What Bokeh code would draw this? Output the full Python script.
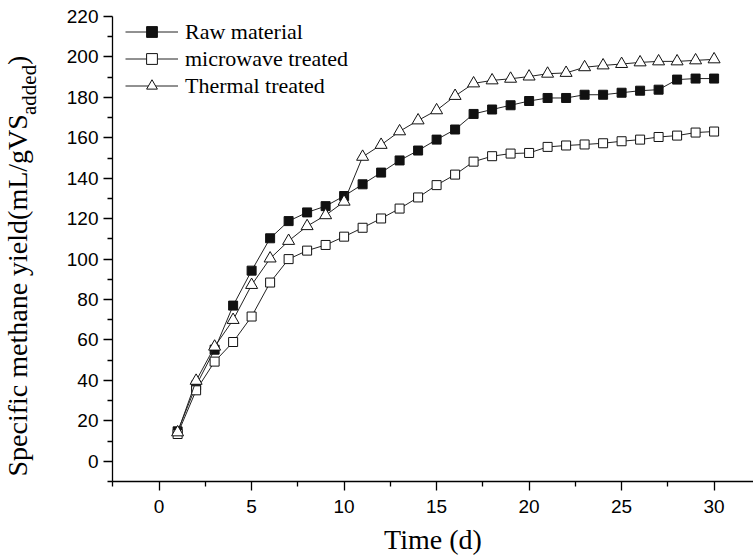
from math import pi
from bokeh.plotting import figure
from bokeh.layouts import row
from bokeh.models import FixedTicker, Range1d, Legend, LegendItem
from bokeh.core.properties import value
from bokeh.embed import file_html
from bokeh.resources import INLINE

days = list(range(1, 31))
raw_material = [14.8, 37.5, 55.2, 77.0, 94.3, 110.3, 118.8, 123.1, 126.2, 131.2,
                137.0, 142.8, 148.8, 153.7, 159.1, 164.1, 171.8, 174.0, 176.1, 178.2,
                179.7, 179.7, 181.3, 181.3, 182.3, 183.3, 183.8, 188.8, 189.3, 189.3]
microwave_treated = [13.5, 35.1, 49.3, 59.0, 71.6, 88.4, 100.0, 104.2, 107.0, 111.1,
                     115.5, 120.1, 125.0, 130.5, 136.6, 141.8, 148.2, 150.9, 152.2, 152.5,
                     155.5, 156.2, 156.7, 157.3, 158.3, 159.1, 160.4, 161.1, 162.6, 163.1]
thermal_treated = [14.3, 39.8, 56.7, 69.9, 87.2, 100.3, 109.0, 116.3, 121.7, 128.4,
                   150.6, 156.5, 163.2, 168.6, 173.6, 180.7, 186.9, 188.4, 189.2, 190.3,
                   191.7, 192.1, 194.9, 195.8, 196.5, 197.3, 197.8, 197.8, 198.3, 198.8]
series_names = ["Raw material", "microwave treated", "Thermal treated"]
x_ticks = [0, 5, 10, 15, 20, 25, 30]
y_ticks = [0, 20, 40, 60, 80, 100, 120, 140, 160, 180, 200, 220]
x_title = "Time (d)"
y_title_main = "Specific methane yield(mL/gVS"
y_title_sub = "added"
y_title_end = ")"

TOTAL_W, TOTAL_H = 753, 557
TITLE_W = 50
TOP, BOTTOM = 16, 75
Y0, Y1 = -10, 220

# ---- main chart ----
p = figure(width=TOTAL_W - TITLE_W, height=TOTAL_H, output_backend="svg",
           toolbar_location=None,
           x_range=Range1d(-2.52, 32.13), y_range=Range1d(Y0, Y1),
           min_border_left=62, min_border_right=0, min_border_top=TOP,
           min_border_bottom=BOTTOM)
p.outline_line_color = None
p.xgrid.visible = False
p.ygrid.visible = False
p.background_fill_color = "white"
p.border_fill_color = "white"

p.xaxis.ticker = FixedTicker(ticks=x_ticks,
                             minor_ticks=[x_ticks[0] - 2.5] + [t + 2.5 for t in x_ticks])
p.yaxis.ticker = FixedTicker(ticks=y_ticks,
                             minor_ticks=[y_ticks[0] - 10] + [t + 10 for t in y_ticks[:-1]])
for ax in (p.xaxis[0], p.yaxis[0]):
    ax.axis_line_color = "black"
    ax.axis_line_width = 1.3
    ax.major_tick_line_color = "black"
    ax.minor_tick_line_color = "black"
    ax.major_tick_line_width = 1.3
    ax.minor_tick_line_width = 1.3
    ax.major_tick_out = 9
    ax.major_tick_in = 0
    ax.minor_tick_out = 5
    ax.minor_tick_in = 0
    ax.major_label_text_font = "Liberation Sans"
    ax.major_label_text_font_size = "19px"
    ax.major_label_text_color = "black"
p.xaxis.major_label_standoff = 9
p.yaxis.major_label_standoff = 5
p.xaxis.axis_label = x_title
p.xaxis.axis_label_text_font = "Liberation Serif"
p.xaxis.axis_label_text_font_size = "28px"
p.xaxis.axis_label_text_font_style = "normal"
p.xaxis.axis_label_text_color = "black"
p.xaxis.axis_label_standoff = 8

styles = [
    (raw_material, "square", "#111111", 9),
    (microwave_treated, "square", "white", 9),
    (thermal_treated, "triangle", "white", 12),
]
items = []
for (vals, marker, fill, size), name in zip(styles, series_names):
    ln = p.line(days, vals, line_color="#222222", line_width=1)
    sc = p.scatter(days, vals, marker=marker, size=size, fill_color=fill,
                   line_color="#111111", line_width=1)
    items.append(LegendItem(label=name, renderers=[ln, sc]))

legend = Legend(items=items, location=(13, 382), glyph_width=53, glyph_height=27,
                label_height=27, label_standoff=7, spacing=0, padding=0, margin=0,
                border_line_color=None, background_fill_alpha=0,
                label_text_font="Liberation Serif", label_text_font_size="22px",
                label_text_color="black")
p.add_layout(legend)

# ---- y-axis title panel (with subscript), frame aligned with the chart's frame ----
t = figure(width=TITLE_W, height=TOTAL_H, output_backend="svg", toolbar_location=None,
           x_range=Range1d(0, TITLE_W), y_range=p.y_range,
           min_border_left=0, min_border_right=0, min_border_top=TOP,
           min_border_bottom=BOTTOM, x_axis_location=None, y_axis_location=None)
t.outline_line_color = None
t.background_fill_color = "white"
t.border_fill_color = "white"
for g in t.grid:
    g.visible = False

frame_h = TOTAL_H - TOP - BOTTOM
px_per_unit = frame_h / (Y1 - Y0)


def to_val(page_y):
    return Y1 - (page_y - TOP) / px_per_unit


main_size, sub_size = 28, 21
main_len = 12.94 * main_size
sub_len = 2.388 * sub_size
start_px = 477
main_x, sub_x = 17, 28
common = dict(angle=pi / 2, text_font=value("Liberation Serif"),
              text_align=value("left"), text_baseline=value("alphabetic"),
              text_color="black")
t.text(x=[main_x], y=[to_val(start_px)], text=[y_title_main],
       text_font_size=value(f"{main_size}px"), **common)
t.text(x=[sub_x], y=[to_val(start_px - main_len)], text=[y_title_sub],
       text_font_size=value(f"{sub_size}px"), **common)
t.text(x=[main_x], y=[to_val(start_px - main_len - sub_len)], text=[y_title_end],
       text_font_size=value(f"{main_size}px"), **common)

layout = row(t, p, spacing=0)
open("out.html", "w").write(file_html(layout, INLINE))
